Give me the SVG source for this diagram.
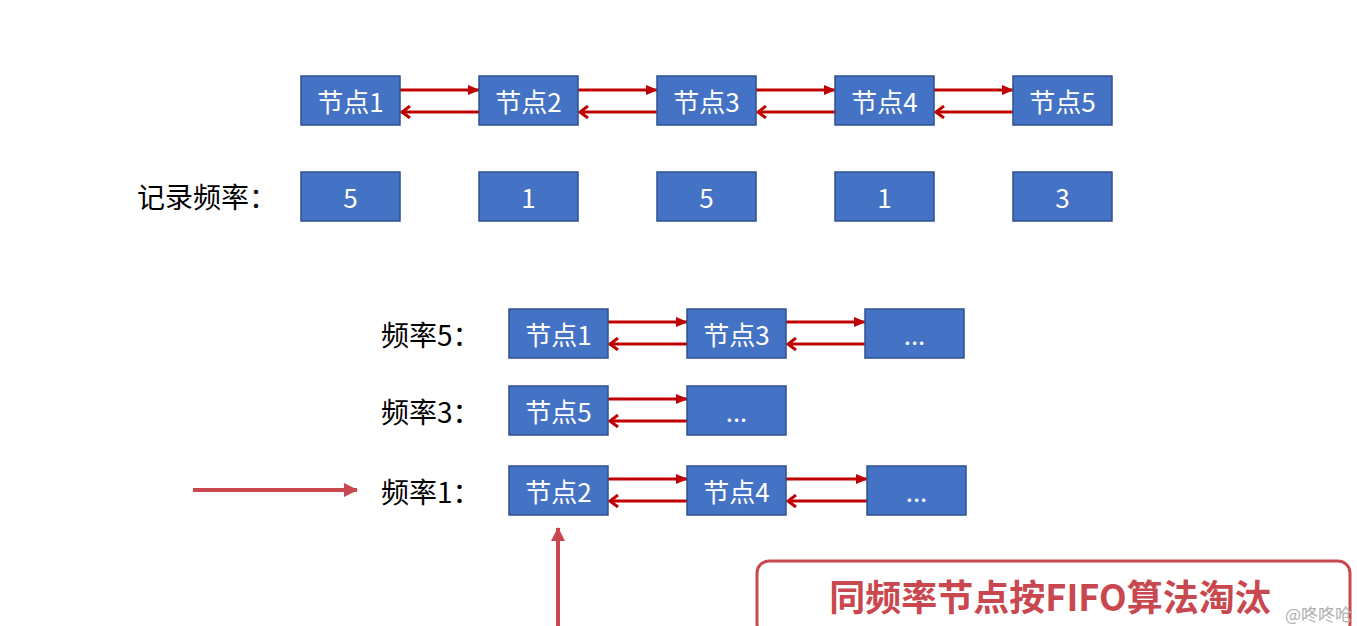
<svg xmlns="http://www.w3.org/2000/svg" width="1357" height="626" viewBox="0 0 1357 626">
<style>
.n{fill:#4472c4;stroke:#2f528f;stroke-width:1.5}
.t{font-family:"Noto Sans CJK SC","Liberation Sans",sans-serif;font-size:26px;fill:#fff;text-anchor:middle;dominant-baseline:central}
.lb{font-family:"Noto Sans CJK SC","Liberation Sans",sans-serif;font-size:28px;fill:#000;dominant-baseline:central}
.f{stroke:#c00000;stroke-width:3;fill:none;marker-end:url(#tri)}
.b{stroke:#c00000;stroke-width:3;fill:none;marker-end:url(#chev)}
.r{stroke:#c9474f;stroke-width:4;fill:none;marker-end:url(#rtri)}
</style>
<defs>
<marker id="tri" markerWidth="12" markerHeight="10" refX="11" refY="5" orient="auto" markerUnits="userSpaceOnUse"><path d="M0,0 L12,5 L0,10 Z" fill="#c00000"/></marker>
<marker id="chev" markerWidth="14" markerHeight="14" refX="12" refY="7" orient="auto" markerUnits="userSpaceOnUse"><path d="M4,1 L12,7 L4,13" fill="none" stroke="#c00000" stroke-width="3"/></marker>
<marker id="rtri" markerWidth="14" markerHeight="14" refX="13" refY="7" orient="auto" markerUnits="userSpaceOnUse"><path d="M0,0 L14,7 L0,14 Z" fill="#c9474f"/></marker>
</defs>
<rect width="1357" height="626" fill="#ffffff"/>

<g id="connectors">
<line class="f" x1="400" y1="90" x2="479" y2="90"/><line class="b" x1="479" y1="112" x2="402" y2="112"/>
<line class="f" x1="578" y1="90" x2="657" y2="90"/><line class="b" x1="657" y1="112" x2="580" y2="112"/>
<line class="f" x1="756" y1="90" x2="835" y2="90"/><line class="b" x1="835" y1="112" x2="758" y2="112"/>
<line class="f" x1="934" y1="90" x2="1013" y2="90"/><line class="b" x1="1013" y1="112" x2="936" y2="112"/>
<line class="f" x1="608" y1="322" x2="687" y2="322"/><line class="b" x1="687" y1="344" x2="610" y2="344"/>
<line class="f" x1="786" y1="322" x2="865" y2="322"/><line class="b" x1="865" y1="344" x2="788" y2="344"/>
<line class="f" x1="608" y1="399" x2="687" y2="399"/><line class="b" x1="687" y1="421" x2="610" y2="421"/>
<line class="f" x1="608" y1="479" x2="687" y2="479"/><line class="b" x1="687" y1="501" x2="610" y2="501"/>
<line class="f" x1="786" y1="479" x2="867" y2="479"/><line class="b" x1="867" y1="501" x2="788" y2="501"/>
<line class="r" x1="193" y1="490" x2="357" y2="490"/>
<line class="r" x1="558" y1="626" x2="558" y2="528"/>
</g>

<g id="node1"><rect class="n" x="301" y="76" width="99" height="49"/><text class="t" x="350.5" y="100.5">节点1</text></g>
<g id="node2"><rect class="n" x="479" y="76" width="99" height="49"/><text class="t" x="528.5" y="100.5">节点2</text></g>
<g id="node3"><rect class="n" x="657" y="76" width="99" height="49"/><text class="t" x="706.5" y="100.5">节点3</text></g>
<g id="node4"><rect class="n" x="835" y="76" width="99" height="49"/><text class="t" x="884.5" y="100.5">节点4</text></g>
<g id="node5"><rect class="n" x="1013" y="76" width="99" height="49"/><text class="t" x="1062.5" y="100.5">节点5</text></g>

<g id="freq-label"><text class="lb" x="137" y="196">记录频率：</text></g>
<g id="freq1"><rect class="n" x="301" y="172" width="99" height="49"/><text class="t" x="350.5" y="196.5">5</text></g>
<g id="freq2"><rect class="n" x="479" y="172" width="99" height="49"/><text class="t" x="528.5" y="196.5">1</text></g>
<g id="freq3"><rect class="n" x="657" y="172" width="99" height="49"/><text class="t" x="706.5" y="196.5">5</text></g>
<g id="freq4"><rect class="n" x="835" y="172" width="99" height="49"/><text class="t" x="884.5" y="196.5">1</text></g>
<g id="freq5"><rect class="n" x="1013" y="172" width="99" height="49"/><text class="t" x="1062.5" y="196.5">3</text></g>

<g id="row5-label"><text class="lb" x="381" y="334">频率5：</text></g>
<g id="r5n1"><rect class="n" x="509" y="309" width="99" height="49"/><text class="t" x="558.5" y="333.5">节点1</text></g>
<g id="r5n3"><rect class="n" x="687" y="309" width="99" height="49"/><text class="t" x="736.5" y="333.5">节点3</text></g>
<g id="r5more"><rect class="n" x="865" y="309" width="99" height="49"/><text class="t" x="914.5" y="333.5">...</text></g>

<g id="row3-label"><text class="lb" x="381" y="411">频率3：</text></g>
<g id="r3n5"><rect class="n" x="509" y="386" width="99" height="49"/><text class="t" x="558.5" y="410.5">节点5</text></g>
<g id="r3more"><rect class="n" x="687" y="386" width="99" height="49"/><text class="t" x="736.5" y="410.5">...</text></g>

<g id="row1-label"><text class="lb" x="381" y="491">频率1：</text></g>
<g id="r1n2"><rect class="n" x="509" y="466" width="99" height="49"/><text class="t" x="558.5" y="490.5">节点2</text></g>
<g id="r1n4"><rect class="n" x="687" y="466" width="99" height="49"/><text class="t" x="736.5" y="490.5">节点4</text></g>
<g id="r1more"><rect class="n" x="867" y="466" width="99" height="49"/><text class="t" x="916.5" y="490.5">...</text></g>

<g id="note">
<rect x="757" y="561" width="593" height="75" rx="12" ry="12" fill="#ffffff" stroke="#c9474f" stroke-width="3"/>
<text x="1050" y="595" font-family="'Noto Sans CJK SC','Liberation Sans',sans-serif" font-size="36" font-weight="bold" fill="#c9474f" text-anchor="middle" dominant-baseline="central">同频率节点按FIFO算法淘汰</text>
</g>
<g id="credit"><text x="1352" y="621" text-anchor="end" font-family="'Noto Sans CJK SC','Liberation Sans',sans-serif" font-size="17" fill="#b0b0b0">@咚咚呛</text></g>
</svg>
